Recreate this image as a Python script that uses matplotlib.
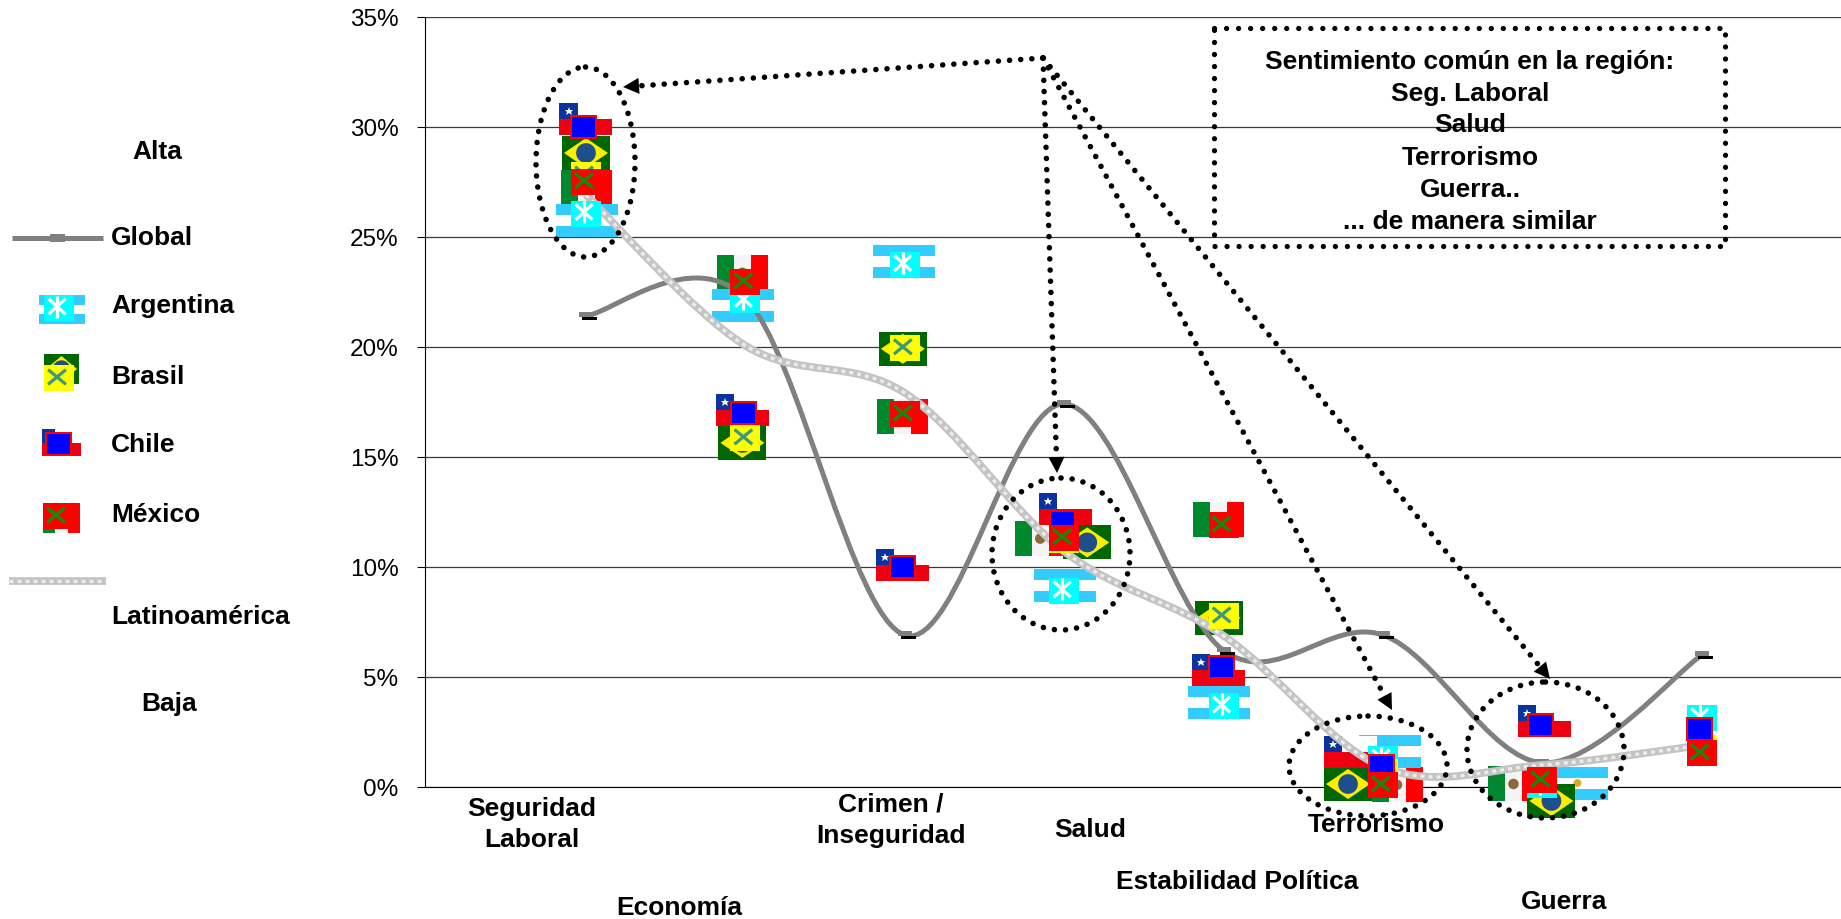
import numpy as np
import matplotlib
matplotlib.use("Agg")
import matplotlib.pyplot as plt
from matplotlib.patches import Rectangle, Polygon, Circle, Ellipse, PathPatch
from matplotlib.path import Path
from matplotlib.transforms import Affine2D

plt.rcParams["font.family"] = ["Liberation Sans", "DejaVu Sans"]

# ── Data ────────────────────────────────────────────────────────
columns = [1, 2, 3, 4, 5, 6, 7, 8]
global_vals = [21.4, 22.2, 6.9, 17.4, 6.2, 6.9, 1.1, 6.0]
latam_vals = [26.9, 20.05, 17.9, 10.7, 6.87, 0.9, 1.0, 1.9]
argentina = [26.05, 22.1, 23.73, 8.91, 3.68, 1.27, 0.09, 3.14]
brasil = [27.8, 15.86, 19.95, 11.2, 7.77, 0.68, 0.32, 1.77]
chile = [30.0, 16.97, 10.0, 12.04, 5.45, 0.97, 2.83, 2.63]
mexico = [27.5, 22.95, 16.95, 11.33, 11.9, 0.1, 0.32, 1.55]
y_ticks = [0, 5, 10, 15, 20, 25, 30, 35]

box_lines = ["Sentimiento común en la región:", "Seg. Laboral", "Salud",
             "Terrorismo", "Guerra..", "... de manera similar"]

# flag position against its marker, in pixels, one per column (none on the last)
offs_arg = [(1, 7), (-2, 5), (-1, -3), (1, -5), (-5, -3), (7, -8), (35, -2)]
offs_bra = [(0, -22), (-3, 5), (-2, 1), (23, 2), (-5, 2), (-35, 12), (9, 21)]
offs_chi = [(0, -8), (-3, -3), (-2, -2), (1, -13), (-5, 3), (-33, -14), (2, -4)]
offs_mex = [(1, 6), (-3, -9), (-2, 3), (-24, 1), (-5, -6), (14, 0), (-29, 4)]

# ── Figure ──────────────────────────────────────────────────────
W, H = 1841, 920
fig = plt.figure(figsize=(W / 100, H / 100), dpi=100)
ax = fig.add_axes([425 / W, 1 - 788 / H, (W - 425) / W, 770.5 / H])
ax.set_xlim(-0.01, 8.873)
ax.set_ylim(0, 35)
ax.set_yticks(y_ticks)
ax.set_yticklabels([f"{t}%" for t in y_ticks], fontsize=17.5)
ax.set_xticks([])
ax.tick_params(axis="y", length=6, width=0.8, pad=13)
ax.grid(axis="y", color="#3a3a3a", lw=0.9)
ax.set_axisbelow(True)
for s in ["top", "right"]:
    ax.spines[s].set_visible(False)

# pixel positions with y going down, same as reading them off the picture
px = Affine2D().scale(1, -1).translate(0, H)


def to_px(x, y):
    dx, dy = ax.transData.transform((x, y))
    return dx, H - dy


def rect(x0, y0, w, h, color, z):
    ax.add_patch(Rectangle((x0, y0), w, h, fc=color, ec="none", transform=px,
                           clip_on=False, zorder=z))


def draw_flag(name, cx, cy, w, h, z=3):
    x0, y0 = cx - w / 2, cy - h / 2
    if name == "Argentina":
        rect(x0, y0, w, h, "#ffffff", z)
        rect(x0, y0, w, h / 3, "#33ccff", z)
        rect(x0, y0 + h * 2 / 3, w, h / 3, "#33ccff", z)
        ax.add_patch(Circle((cx, cy), h * 0.12, fc="#e0a828", ec="none", transform=px,
                            clip_on=False, zorder=z))
    elif name == "Brasil":
        rect(x0, y0, w, h, "#006600", z)
        ax.add_patch(Polygon([(x0 + 2, cy), (cx, y0 + 2), (x0 + w - 2, cy), (cx, y0 + h - 2)],
                             fc="#ffee00", ec="none", transform=px, clip_on=False, zorder=z))
        ax.add_patch(Circle((cx, cy), h * 0.29, fc="#1c4f8c", ec="none", transform=px,
                            clip_on=False, zorder=z))
    elif name == "Chile":
        rect(x0, y0, w, h / 2, "#ffffff", z)
        rect(x0, cy, w, h / 2, "#ee0010", z)
        rect(x0, y0, w * 0.34, h / 2, "#0b33a0", z)
        ax.plot([x0 + w * 0.17], [y0 + h / 4], marker="*", ms=h * 0.2, color="white", mew=0,
                transform=px, clip_on=False, zorder=z)
    else:
        rect(x0, y0, w / 3, h, "#00882f", z)
        rect(x0 + w / 3, y0, w / 3, h, "#f4f4f4", z)
        rect(x0 + w * 2 / 3, y0, w / 3, h, "#ff0000", z)
        ax.add_patch(Circle((cx, cy), h * 0.15, fc="#8a6a3a", ec="none", transform=px,
                            clip_on=False, zorder=z))


def glyph(cx, cy, color, lines, z):
    for ang in lines:
        a = np.radians(ang)
        ax.plot([cx - 12 * np.cos(a), cx + 12 * np.cos(a)],
                [cy - 11 * np.sin(a), cy + 11 * np.sin(a)],
                color=color, lw=2.3, transform=px, clip_on=False, zorder=z,
                solid_capstyle="butt")


def draw_marker(name, cx, cy, z):
    if name == "Chile":
        rect(cx - 15.5, cy - 12, 27, 24, "#ff0000", z)
        rect(cx - 13.5, cy - 10, 23, 20, "#0000ff", z)
    elif name == "Argentina":
        rect(cx - 15, cy - 13, 30, 26, "#00ffff", z)
        glyph(cx - 2, cy - 1.5, "white", [45, 90, 135], z)
    elif name == "Brasil":
        rect(cx - 15, cy - 13, 30, 26, "#ffff00", z)
        glyph(cx - 2, cy - 1, "#3a9a7a", [42, 138], z)
    else:
        rect(cx - 15, cy - 13, 30, 26, "#ff0000", z)
        glyph(cx - 2, cy - 1, "#108a10", [42, 138], z)


def smooth_path(xs, ys):
    # same kind of smoothing a spreadsheet applies to a line series
    pts = np.column_stack([xs, ys])
    verts = [pts[0]]
    codes = [Path.MOVETO]
    n = len(pts)
    for i in range(n - 1):
        p0 = pts[max(i - 1, 0)]
        p1 = pts[i]
        p2 = pts[i + 1]
        p3 = pts[min(i + 2, n - 1)]
        verts += [p1 + (p2 - p0) / 6, p2 - (p3 - p1) / 6, p2]
        codes += [Path.CURVE4] * 3
    return Path(verts, codes)


# ── Flags, lines, markers ───────────────────────────────────────
series = [
    ("México", mexico, offs_mex, 51, 35),
    ("Argentina", argentina, offs_arg, 62, 33),
    ("Brasil", brasil, offs_bra, 48, 34),
    ("Chile", chile, offs_chi, 53, 32),
]
for name, vals, offs, fw, fh in series:
    for c, v, (dx, dy) in zip(columns, vals, offs):
        cx, cy = to_px(c, v)
        draw_flag(name, cx + dx, cy + dy, fw, fh)

ax.add_patch(PathPatch(smooth_path(columns, global_vals), fc="none", ec="#808080", lw=3.6,
                       zorder=4, clip_on=False))
for c, v in zip(columns, global_vals):
    cx, cy = to_px(c, v)
    rect(cx - 7, cy - 4, 14, 5, "#808080", 4.2)
    rect(cx - 4, cy + 1, 15, 3, "#000000", 4.1)

ax.add_patch(PathPatch(smooth_path(columns, latam_vals), fc="none", ec="#c4c4c4", lw=5.6,
                       zorder=5, clip_on=False, capstyle="butt"))
ax.add_patch(PathPatch(smooth_path(columns, latam_vals), fc="none", ec="#ececec", lw=2.4,
                       ls=(0, (1.2, 1.2)), zorder=5.1, clip_on=False))

for i, (name, vals) in enumerate([("Argentina", argentina), ("Brasil", brasil),
                                  ("Chile", chile), ("México", mexico)]):
    for c, v in zip(columns, vals):
        cx, cy = to_px(c, v)
        draw_marker(name, cx, cy, 6 + i)

# ── Dotted callouts ─────────────────────────────────────────────
dot = (0, (0.01, 2.0))
for (ex, ey, ew, eh) in [(585.5, 163, 99, 190), (1061, 555, 138, 152),
                         (1368, 767, 158, 100), (1545.5, 751, 157, 136)]:
    ax.add_patch(Ellipse((ex, ey), ew, eh, fc="none", ec="black", lw=4.0, ls=dot,
                         capstyle="round", transform=px, clip_on=False, zorder=12))

ax.add_patch(Rectangle((1214, 29), 511, 218, fc="none", ec="black", lw=3.8, ls=(0, (0.01, 2.27)),
                       capstyle="round", transform=px, clip_on=False, zorder=12))

apex = np.array([1043.0, 59.0])
for tip in [(623, 88), (1057, 474), (1392, 711), (1550, 680)]:
    tip = np.array(tip, dtype=float)
    u = (tip - apex) / np.linalg.norm(tip - apex)
    n = np.array([-u[1], u[0]])
    base = tip - u * 16
    ax.plot([apex[0], base[0]], [apex[1], base[1]], color="black", lw=4.0, ls=dot,
            dash_capstyle="round", transform=px, clip_on=False, zorder=12)
    ax.add_patch(Polygon([tip, base + n * 8, base - n * 8], fc="black", ec="none",
                         transform=px, clip_on=False, zorder=12))

# ── Text ────────────────────────────────────────────────────────
def label(x, y, s, ha="center", size=19):
    ax.text(x, y + 2.5, s, transform=px, ha=ha, va="center", fontsize=size, fontweight="bold",
            color="black", clip_on=False, zorder=11)


for y, s in zip([60, 92, 123, 156, 188, 220], box_lines):
    label(1470, y, s)

label(532, 807, "Seguridad")
label(532, 838, "Laboral")
label(891, 802, "Crimen /")
label(891, 834, "Inseguridad")
label(1090, 828, "Salud")
label(1376, 823, "Terrorismo")
label(1237, 880, "Estabilidad Política")
label(679, 906, "Economía")
label(1564, 900, "Guerra")

label(157, 150, "Alta")
label(169, 702, "Baja")
for y, s in [(236, "Global"), (304, "Argentina"), (375, "Brasil"), (443, "Chile"),
             (513, "México"), (615, "Latinoamérica")]:
    label(111, y, s, ha="left")

# ── Legend keys ─────────────────────────────────────────────────
ax.plot([12, 103], [238.7, 238.7], color="#808080", lw=3.6, transform=px, clip_on=False, zorder=4,
        solid_capstyle="butt")
rect(50, 235, 15, 8, "#808080", 4.2)

draw_flag("Argentina", 62, 310.5, 46, 29)
draw_marker("Argentina", 59, 309, 6)
draw_flag("Brasil", 61.5, 370, 35, 30)
draw_marker("Brasil", 59, 379, 6)
draw_flag("Chile", 61.5, 443.5, 39, 27)
draw_marker("Chile", 60, 445, 6)
draw_flag("México", 61.5, 519, 37, 30)
draw_marker("México", 58, 517, 6)

ax.plot([9, 106], [582, 582], color="#c4c4c4", lw=5.6, transform=px, clip_on=False, zorder=5,
        solid_capstyle="butt")
ax.plot([9, 106], [582, 582], color="#ececec", lw=2.4, ls=(0, (1.2, 1.2)), transform=px,
        clip_on=False, zorder=5.1)

fig.savefig("out.png", dpi=100)
